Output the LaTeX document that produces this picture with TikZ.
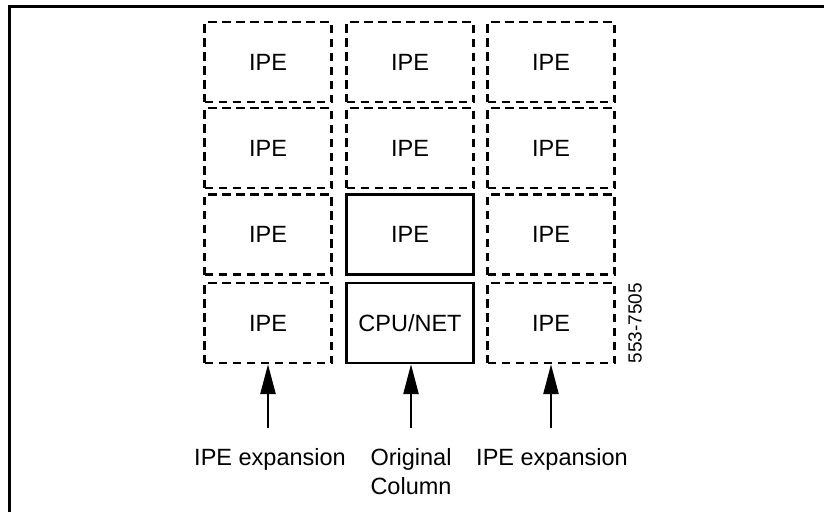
\documentclass[tikz,border=0pt]{standalone}
\usepackage{fontspec}
\setmainfont{Liberation Sans}
\usetikzlibrary{arrows.meta}
\begin{document}
\begin{tikzpicture}[x=1pt,y=-1pt,
  dbox/.style={draw, line width=2.4pt, dash pattern=on 8.5pt off 5.5pt, minimum width=127pt, minimum height=80pt, inner sep=0pt, font=\fontsize{23.5}{27}\selectfont},
  sbox/.style={draw, line width=2.4pt, minimum width=127pt, minimum height=80pt, inner sep=0pt, font=\fontsize{23.5}{27}\selectfont},
  lbl/.style={font=\fontsize{23.5}{29.5}\selectfont, align=center, inner sep=0pt, anchor=north},
  arr/.style={line width=2.6pt, -{Triangle[length=30pt,width=15pt]}}]
\useasboundingbox (0,0) rectangle (824,512);
\draw[line width=3pt] (9.5,512) -- (9.5,6) -- (824,6);
% columns: 268, 410, 551 ; rows: 62, 148, 234.5, 323
\node[dbox] (a1) at (268,62) {IPE};
\node[dbox] (a2) at (268,148) {IPE};
\node[dbox] (a3) at (268,234.5) {IPE};
\node[dbox] (a4) at (268,323) {IPE};
\node[dbox] (b1) at (410,62) {IPE};
\node[dbox] (b2) at (410,148) {IPE};
\node[sbox] (b3) at (410,234.5) {IPE};
\node[sbox] (b4) at (410,323) {CPU/NET};
\node[dbox] (c1) at (551,62) {IPE};
\node[dbox] (c2) at (551,148) {IPE};
\node[dbox] (c3) at (551,234.5) {IPE};
\node[dbox] (c4) at (551,323) {IPE};
\node[font=\fontsize{19}{22}\selectfont, rotate=90, inner sep=0pt] (id) at (635,323) {553-7505};
\coordinate (ta) at (268,428);
\coordinate (tb) at (411,428);
\coordinate (tc) at (551,428);
\draw[arr] (ta) -- (a4.south);
\draw[arr] (tb) -- (b4.south -| tb);
\draw[arr] (tc) -- (c4.south);
\node[lbl] (la) at (270,448) {IPE expansion};
\node[lbl] (lb) at (411,448) {Original\\Column};
\node[lbl] (lc) at (552,448) {IPE expansion};
\end{tikzpicture}
\end{document}
